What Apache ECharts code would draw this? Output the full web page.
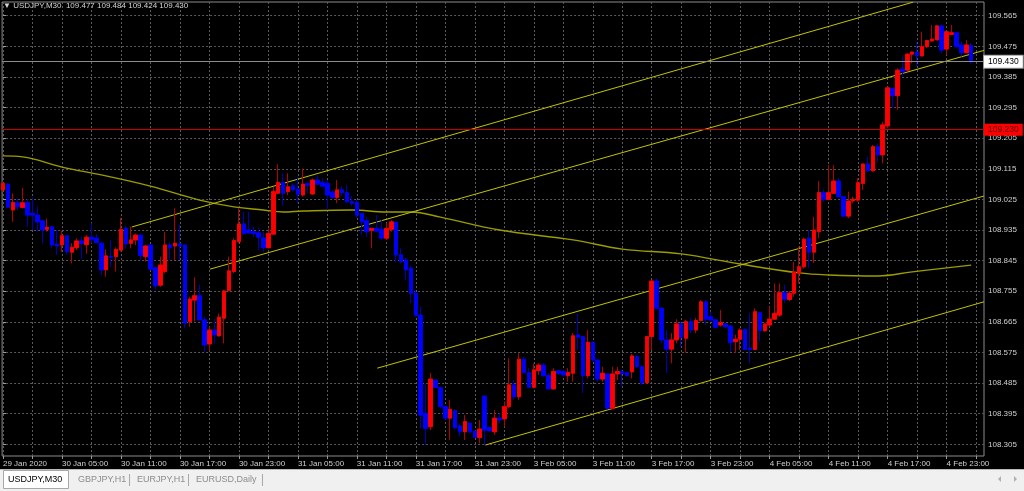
<!DOCTYPE html>
<html><head><meta charset="utf-8">
<script src="https://cdn.jsdelivr.net/npm/echarts@6/dist/echarts.min.js"></script>
<style>html,body{margin:0;padding:0;background:#000;overflow:hidden}#c{width:1024px;height:491px}</style>
</head><body><div id="c"></div>
<script>
const symbol = 'USDJPY,M30';
const tickLabels = ['29 Jan 2020','30 Jan 05:00','30 Jan 11:00','30 Jan 17:00','30 Jan 23:00','31 Jan 05:00','31 Jan 11:00','31 Jan 17:00','31 Jan 23:00','3 Feb 05:00','3 Feb 11:00','3 Feb 17:00','3 Feb 23:00','4 Feb 05:00','4 Feb 11:00','4 Feb 17:00','4 Feb 23:00'];
const tickBars = [0,12,24,36,48,60,72,84,96,108,120,132,144,156,168,180,192];
const gridBars = [0,6,12,18,24,30,36,42,48,54,60,66,72,78,84,90,96,102,108,114,120,126,132,138,144,150,156,162,168,174,180,186,192,198];
const yTicks = [108.305,108.395,108.485,108.575,108.665,108.755,108.845,108.935,109.025,109.115,109.205,109.295,109.385,109.475,109.565];

const opens = [109.053,109.070,108.994,109.015,109.001,109.016,108.984,108.979,108.962,108.937,108.945,108.893,108.891,108.918,108.870,108.883,108.903,108.892,108.914,108.911,
108.896,108.818,108.857,108.857,108.876,108.940,108.896,108.906,108.920,108.857,108.891,108.824,108.773,108.813,108.891,108.888,108.894,108.891,108.666,108.729,
108.742,108.671,108.600,108.641,108.624,108.676,108.757,108.813,108.901,108.953,108.935,108.930,108.927,108.912,108.883,108.923,109.043,109.075,109.048,109.065,
109.055,109.038,109.072,109.041,109.082,109.074,109.072,109.046,109.031,109.053,109.045,109.018,109.017,108.984,108.962,108.934,108.940,108.937,108.911,108.937,
108.958,108.862,108.847,108.823,108.749,108.685,108.396,108.357,108.494,108.472,108.416,108.382,108.404,108.359,108.342,108.367,108.344,108.325,108.447,108.354,
108.342,108.382,108.380,108.416,108.480,108.445,108.555,108.516,108.473,108.522,108.538,108.507,108.468,108.521,108.519,108.507,108.514,108.627,108.622,108.507,
108.605,108.553,108.497,108.512,108.411,108.512,108.519,108.516,108.518,108.563,108.533,108.486,108.622,108.785,108.705,108.612,108.585,108.612,108.659,108.617,
108.666,108.641,108.669,108.724,108.680,108.671,108.656,108.659,108.653,108.607,108.614,108.643,108.588,108.584,108.692,108.639,108.656,108.673,108.685,108.751,
108.731,108.749,108.808,108.827,108.911,108.870,108.930,109.045,109.025,109.043,109.079,109.033,108.976,109.021,109.023,109.072,109.129,109.109,109.180,109.156,
109.241,109.352,109.330,109.408,109.405,109.452,109.458,109.447,109.474,109.491,109.494,109.535,109.467,109.510,109.515,109.479,109.456,109.477];
const closes = [109.072,109.002,109.016,109.004,109.015,108.979,108.979,108.959,108.935,108.943,108.891,108.888,108.918,108.871,108.884,108.903,108.896,108.914,108.908,108.898,
108.818,108.859,108.855,108.878,108.937,108.894,108.906,108.920,108.860,108.888,108.820,108.771,108.832,108.891,108.883,108.896,108.888,108.661,108.732,108.742,
108.671,108.597,108.641,108.627,108.679,108.756,108.815,108.904,108.953,108.925,108.927,108.925,108.914,108.883,108.925,109.048,109.075,109.043,109.062,109.053,
109.040,109.070,109.067,109.082,109.070,109.064,109.038,109.031,109.053,109.045,109.018,109.014,108.979,108.959,108.930,108.940,108.932,108.911,108.940,108.959,
108.862,108.842,108.818,108.749,108.685,108.391,108.352,108.497,108.472,108.416,108.382,108.408,108.354,108.342,108.372,108.342,108.326,108.350,108.347,108.345,
108.382,108.377,108.416,108.480,108.445,108.555,108.516,108.473,108.524,108.538,108.507,108.468,108.519,108.514,108.509,108.516,108.624,108.620,108.507,108.605,
108.553,108.497,108.514,108.411,108.512,108.519,108.514,108.507,108.565,108.533,108.486,108.622,108.785,108.705,108.612,108.585,108.612,108.659,108.620,108.666,
108.641,108.669,108.724,108.673,108.671,108.649,108.663,108.651,108.604,108.614,108.641,108.584,108.584,108.695,108.639,108.659,108.673,108.690,108.751,108.732,
108.749,108.811,108.827,108.908,108.870,108.935,109.045,109.025,109.045,109.079,109.033,108.976,109.020,109.026,109.074,109.129,109.109,109.180,109.156,109.244,
109.353,109.330,109.405,109.400,109.452,109.458,109.447,109.474,109.492,109.496,109.535,109.464,109.518,109.515,109.474,109.456,109.479,109.430];
const lows = [109.048,108.999,108.959,108.994,108.999,108.945,108.935,108.930,108.896,108.930,108.881,108.862,108.871,108.862,108.837,108.876,108.850,108.865,108.896,108.896,
108.803,108.798,108.827,108.813,108.871,108.881,108.881,108.891,108.847,108.842,108.818,108.759,108.768,108.808,108.847,108.847,108.847,108.646,108.651,108.666,
108.671,108.575,108.580,108.602,108.622,108.602,108.754,108.808,108.896,108.920,108.923,108.915,108.876,108.871,108.881,108.920,109.043,109.006,109.038,109.048,
109.014,109.033,109.043,109.038,109.067,109.062,108.994,109.025,109.014,109.035,109.014,109.006,108.970,108.920,108.915,108.881,108.929,108.906,108.906,108.930,
108.842,108.837,108.788,108.721,108.680,108.352,108.303,108.347,108.471,108.411,108.377,108.318,108.347,108.328,108.318,108.338,108.323,108.308,108.303,108.341,
108.333,108.367,108.357,108.411,108.436,108.436,108.514,108.470,108.470,108.509,108.504,108.465,108.465,108.509,108.504,108.489,108.489,108.582,108.456,108.499,
108.548,108.489,108.489,108.408,108.408,108.494,108.475,108.504,108.499,108.529,108.480,108.485,108.582,108.705,108.602,108.514,108.543,108.602,108.592,108.574,
108.632,108.632,108.666,108.656,108.666,108.646,108.651,108.646,108.577,108.573,108.582,108.582,108.543,108.582,108.607,108.636,108.651,108.671,108.680,108.721,
108.726,108.739,108.778,108.822,108.823,108.838,108.911,109.018,109.023,109.041,109.030,108.974,108.970,109.014,109.018,109.053,109.107,109.107,109.136,109.131,
109.234,109.293,109.288,109.386,109.403,109.425,109.415,109.445,109.470,109.489,109.494,109.455,109.450,109.508,109.472,109.445,109.455,109.424];
const highs = [109.077,109.072,109.043,109.028,109.059,109.026,109.031,109.004,108.964,108.969,108.945,108.935,108.933,108.920,108.896,108.911,108.915,108.920,108.955,108.923,
108.901,108.878,108.906,108.884,108.971,108.947,108.945,108.925,108.920,108.891,108.891,108.827,108.857,108.930,108.901,108.999,108.950,108.891,108.739,108.796,
108.774,108.680,108.651,108.673,108.690,108.759,108.857,108.911,108.999,108.989,108.989,108.945,108.940,108.930,108.940,109.062,109.128,109.102,109.102,109.072,
109.092,109.116,109.077,109.087,109.097,109.087,109.082,109.053,109.082,109.064,109.067,109.035,109.023,108.985,108.974,108.940,108.979,108.964,108.955,108.964,
108.959,108.881,108.853,108.832,108.759,108.710,108.480,108.515,108.497,108.472,108.416,108.436,108.408,108.367,108.391,108.372,108.347,108.377,108.447,108.357,
108.406,108.396,108.431,108.558,108.494,108.573,108.563,108.529,108.543,108.543,108.543,108.514,108.529,108.524,108.524,108.529,108.632,108.690,108.622,108.641,
108.607,108.553,108.533,108.512,108.533,108.533,108.524,108.519,108.571,108.568,108.538,108.622,108.788,108.793,108.708,108.641,108.632,108.673,108.666,108.671,
108.677,108.677,108.729,108.729,108.695,108.671,108.700,108.661,108.656,108.627,108.646,108.646,108.690,108.705,108.695,108.661,108.710,108.778,108.778,108.774,
108.756,108.842,108.886,108.913,108.935,108.974,109.079,109.055,109.126,109.126,109.087,109.033,109.048,109.033,109.087,109.131,109.151,109.185,109.190,109.253,
109.356,109.352,109.410,109.445,109.455,109.460,109.489,109.518,109.494,109.538,109.538,109.538,109.518,109.538,109.518,109.489,109.494,109.484];

const bidPrice = 109.430;
const levelPrice = 109.227;
const trendLines = [
  [[26.21,108.944],[185.2,109.605]],
  [[42.11,108.820],[199.6,109.463]],
  [[76.16,108.529],[199.6,109.035]],
  [[98.15,108.303],[199.6,108.724]]
];
const maBars = [0,4,12,20,30,40,47,53,57,61,71,78,83,89,101,116,126,138,150,162,168,178,185,197];
const maValues = [109.153,109.150,109.120,109.097,109.064,109.023,109.003,108.994,108.988,108.991,108.994,108.988,108.988,108.973,108.935,108.906,108.879,108.865,108.835,108.809,108.803,108.800,108.812,108.832];
const tabs = ['USDJPY,M30','GBPJPY,H1','EURJPY,H1','EURUSD,Daily'];

const FONT = '"Liberation Sans", Arial, sans-serif';
const last = opens.length - 1;
const fmt = v => v.toFixed(3);

const candleData = opens.map((o,i)=>[i,o,closes[i],lows[i],highs[i]]);
const bodyData = opens.map((o,i)=>[i,o,closes[i],Math.min(o,closes[i]),Math.max(o,closes[i])]);

const chart = echarts.init(document.getElementById('c'), null, {renderer:'canvas'});

const series = [
  {
    type:'candlestick', name:'wick', data:candleData, encode:{x:0,y:[1,2,3,4]},
    barWidth:4, silent:true,
    itemStyle:{color:'#b40000', color0:'#0000b8', borderColor:'#b40000', borderColor0:'#0000b8', borderWidth:1},
    z:3
  },
  {
    type:'candlestick', name:'body', data:bodyData, encode:{x:0,y:[1,2,3,4]},
    barWidth:4, silent:true,
    itemStyle:{color:'#ff0000', color0:'#0000ff', borderColor:'#ff0000', borderColor0:'#0000ff', borderWidth:0.6},
    z:4,
    markLine:{
      silent:true, symbol:['none','none'], animation:false,
      data:[
        {yAxis:bidPrice, lineStyle:{color:'#8c8c8c', type:'solid', width:1},
         label:{show:true, position:'end', distance:0, formatter:p=>fmt(p.value), color:'#000', backgroundColor:'#ffffff', borderColor:'#9a9a9a', borderWidth:1, padding:[2,4,1,4], fontSize:8.5, fontFamily:FONT}},
        {yAxis:levelPrice, lineStyle:{color:'#c80000', type:'solid', width:1},
         label:{show:true, position:'end', distance:0, formatter:p=>fmt(p.value), color:'#5a0000', backgroundColor:'#ff0000', padding:[2,4,1,4], fontSize:8.5, fontFamily:FONT}}
      ]
    }
  },
  {
    type:'line', name:'MA', data:maBars.map((b,i)=>[b,maValues[i]]), smooth:0.4, showSymbol:false, silent:true,
    lineStyle:{color:'#9c9c00', width:1.4}, z:2
  }
];
trendLines.forEach((tl,k)=>series.push({
  type:'line', name:'trend'+k, data:tl, showSymbol:false, silent:true,
  lineStyle:{color:'#c4c400', width:1}, z:2
}));

const graphic = [
  {type:'rect', shape:{x:0,y:469,width:1024,height:22}, style:{fill:'#f0f0f0'}, z:100},
  {type:'line', shape:{x1:0,y1:469.5,x2:1024,y2:469.5}, style:{stroke:'#b9b9b9', lineWidth:1}, z:101},
  {type:'rect', shape:{x:3.5,y:470.5,width:65,height:18}, style:{fill:'#ffffff', stroke:'#a8a8a8', lineWidth:1}, z:101},
  {type:'text', x:8, y:480, style:{text:tabs[0], fill:'#000', font:'9px '+FONT, verticalAlign:'middle'}, z:102},
  {type:'text', x:78, y:480, style:{text:tabs[1], fill:'#8c8c8c', font:'9px '+FONT, verticalAlign:'middle'}, z:102},
  {type:'line', shape:{x1:129.5,y1:474,x2:129.5,y2:486}, style:{stroke:'#a8a8a8'}, z:102},
  {type:'text', x:137, y:480, style:{text:tabs[2], fill:'#8c8c8c', font:'9px '+FONT, verticalAlign:'middle'}, z:102},
  {type:'line', shape:{x1:188.5,y1:474,x2:188.5,y2:486}, style:{stroke:'#a8a8a8'}, z:102},
  {type:'text', x:196, y:480, style:{text:tabs[3], fill:'#8c8c8c', font:'9px '+FONT, verticalAlign:'middle'}, z:102},
  {type:'line', shape:{x1:262.5,y1:474,x2:262.5,y2:486}, style:{stroke:'#a8a8a8'}, z:102},
  {type:'polygon', shape:{points:[[1001,476],[1001,482],[998,479]]}, style:{fill:'#b0b0b0'}, z:102},
  {type:'polygon', shape:{points:[[1014,476],[1014,482],[1017,479]]}, style:{fill:'#b0b0b0'}, z:102}
];

chart.setOption({
  animation:false,
  backgroundColor:'#000000',
  title:{
    text:'▼ ' + symbol + '  ' + fmt(opens[last]) + ' ' + fmt(highs[last]) + ' ' + fmt(lows[last]) + ' ' + fmt(closes[last]),
    left:3, top:2, padding:0,
    textStyle:{color:'#d4d4d4', fontSize:8, fontWeight:'normal', fontFamily:FONT}
  },
  grid:{left:0, top:2, width:984, height:454, show:true, borderColor:'#8c8c8c', borderWidth:1, backgroundColor:'#000'},
  xAxis:{
    type:'value', min:-0.18, max:199.61,
    axisLine:{show:false},
    axisTick:{show:true, customValues:gridBars, length:3, lineStyle:{color:'#9a9a9a'}},
    axisLabel:{customValues:tickBars, formatter:v=>tickLabels[tickBars.indexOf(Math.round(v))] || '', align:'left', color:'#cfcfcf', fontSize:8, fontFamily:FONT, margin:4},
    splitLine:{show:true, lineStyle:{color:'#5a5a5a', type:[2,2], width:1}}
  },
  yAxis:{
    type:'value', position:'right', min:108.2708, max:109.6053,
    axisLine:{show:false},
    axisTick:{show:true, customValues:yTicks, length:3, lineStyle:{color:'#9a9a9a'}},
    axisLabel:{customValues:yTicks, formatter:v=>fmt(v), color:'#cfcfcf', fontSize:8, fontFamily:FONT, margin:4},
    splitLine:{show:true, lineStyle:{color:'#5a5a5a', type:[2,2], width:1}}
  },
  series:series,
  graphic:graphic
});
</script>
</body></html>
